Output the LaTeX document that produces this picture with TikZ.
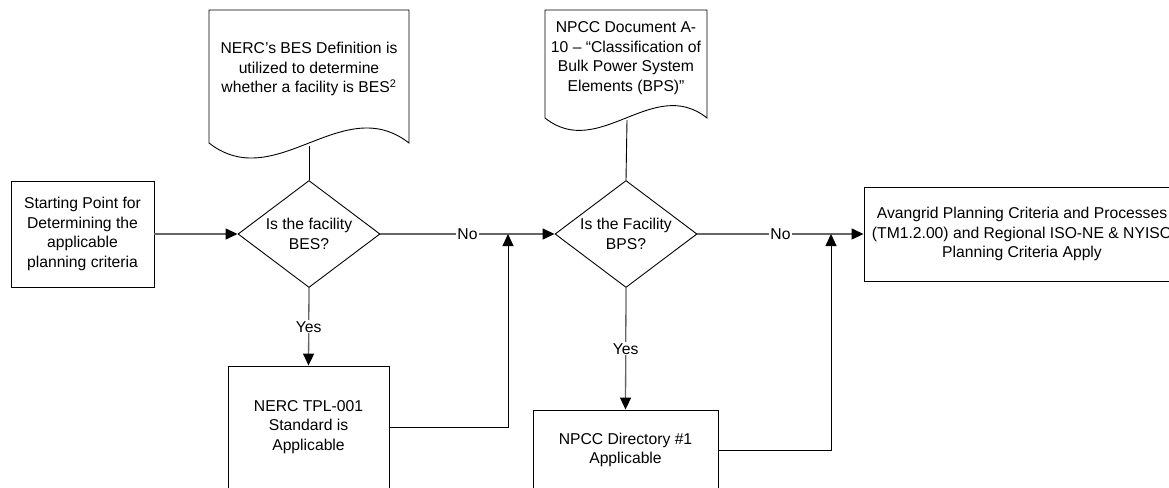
\documentclass[tikz,border=0pt]{standalone}
\usepackage{fontspec}
\setmainfont{Liberation Sans}
\usetikzlibrary{shapes.geometric,arrows.meta}

\begin{document}
\begin{tikzpicture}[x=1pt,y=-1pt,
  txt/.style={font=\fontsize{15.7}{19.5}\selectfont,align=center},
  procbox/.style={txt,draw,line width=0.9pt,inner sep=0pt},
  decide/.style={txt,draw,diamond,line width=0.9pt,inner sep=0pt,aspect=1.33,
    minimum width=142pt,minimum height=107pt},
  mainline/.style={draw=black!60,line width=1.3pt},
  backline/.style={draw=black,line width=0.9pt},
  tip/.style={-{Triangle[length=12pt,width=11pt,color=black,fill=black]}},
  lbl/.style={txt,fill=white,inner sep=1pt}]

\useasboundingbox (0,0) rectangle (1169,487);
\clip (0,0) rectangle (1169,487);

% process boxes
\node[procbox,minimum width=143pt,minimum height=106pt] (start) at (82.5,234)
  {Starting Point for\\Determining the\\applicable\\planning criteria};
\node[procbox,minimum width=161pt,minimum height=122pt] (nerc) at (308.5,427)
  {NERC TPL-001\\Standard is\\Applicable};
\node[procbox,minimum width=185pt,minimum height=80pt] (npcc) at (625.5,450)
  {NPCC Directory \#1\\Applicable};
\node[procbox,minimum width=316pt,minimum height=94pt] (avan) at (1022,234)
  {Avangrid Planning Criteria and Processes\\(TM1.2.00) and Regional ISO-NE \& NYISO\\Planning Criteria Apply};

% decisions
\node[decide] (bes) at (309,234) {Is the facility\\BES?};
\node[decide] (bps) at (626,234) {Is the Facility\\BPS?};

% documents
\draw[line width=0.9pt] (209,143) -- (209,10) -- (409,10) -- (409,143)
  .. controls (342.3,91) and (275.7,195) .. (209,143);
\node[txt] (nercdef) at (309,69)
  {NERC’s BES Definition is\\utilized to determine\\whether a facility is BES\textsuperscript{2}};
\coordinate (nercdefb) at (309,146);

\draw[line width=0.9pt] (545,118) -- (545,10) -- (707,10) -- (707,118)
  .. controls (653,75) and (599,161) .. (545,118);
\node[txt] (npccdoc) at (626,58)
  {NPCC Document A-\\10 – “Classification of\\Bulk Power System\\Elements (BPS)”};
\coordinate (npccdocb) at (627,120);

\coordinate (j1) at (508,234);
\coordinate (j2) at (831,234);

% connectors
\draw[backline] (nercdefb) -- (bes.north);
\draw[backline] (npccdocb) -- (bps.north);

\draw[mainline,tip] (start.east) -- (bes.west);
\draw[mainline,tip] (bes.east) -- node[lbl]{No} (bps.west);
\draw[mainline,tip] (bps.east) -- node[lbl]{No} (avan.west);

\draw[mainline,tip] (bes.south) -- node[lbl]{Yes} (nerc.north);
\draw[mainline,tip] (bps.south) -- node[lbl]{Yes} (npcc.north);

\draw[backline,tip] (nerc.east) -| (j1);
\draw[backline,tip] (npcc.east) -| (j2);

\end{tikzpicture}
\end{document}
